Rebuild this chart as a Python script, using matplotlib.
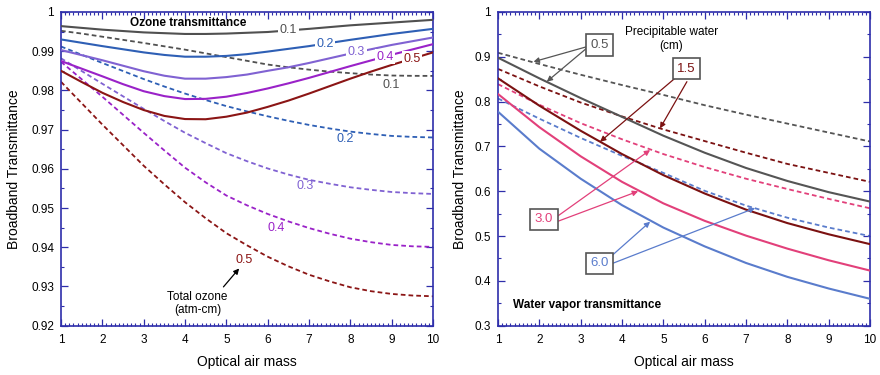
import matplotlib
matplotlib.use("Agg")
import matplotlib.pyplot as plt
import numpy as np
from matplotlib.ticker import MultipleLocator, FixedLocator, FixedFormatter

plt.rcParams['font.family'] = ['Liberation Sans', 'DejaVu Sans']

# ---------------- data ----------------
# Ozone panel: air mass sampled every 0.5
air_mass_fine = [1.0, 1.5, 2.0, 2.5, 3.0, 3.5, 4.0, 4.5, 5.0, 5.5,
                 6.0, 6.5, 7.0, 7.5, 8.0, 8.5, 9.0, 9.5, 10.0]
ozone_labels = ['0.1', '0.2', '0.3', '0.4', '0.5']

# solid curves
ozone_solid_01 = [0.9964, 0.99595, 0.9955, 0.99515, 0.9948, 0.9946, 0.9944, 0.9944, 0.9945, 0.9947,
                  0.9949, 0.9953, 0.9957, 0.99615, 0.9966, 0.99695, 0.9973, 0.99765, 0.9980]
ozone_solid_02 = [0.9930, 0.99215, 0.9913, 0.9905, 0.9897, 0.98905, 0.9886, 0.9886, 0.9888, 0.98925,
                  0.9899, 0.9906, 0.9913, 0.9921, 0.9929, 0.99365, 0.9944, 0.99505, 0.9957]
ozone_solid_03 = [0.9903, 0.9890, 0.9877, 0.9863, 0.9849, 0.98375, 0.9830, 0.9830, 0.9834, 0.98405,
                  0.9850, 0.9859, 0.9870, 0.9882, 0.9894, 0.9905, 0.9916, 0.99255, 0.9935]
ozone_solid_04 = [0.9875, 0.98555, 0.9836, 0.9816, 0.9798, 0.97855, 0.9778, 0.97785, 0.9784, 0.97935,
                  0.9805, 0.9818, 0.9832, 0.9847, 0.9862, 0.98765, 0.9891, 0.99045, 0.9918]
ozone_solid_05 = [0.9850, 0.98215, 0.9794, 0.97705, 0.9750, 0.9735, 0.9727, 0.97265, 0.9733, 0.97435,
                  0.9758, 0.9774, 0.9792, 0.9811, 0.9830, 0.9848, 0.9865, 0.9881, 0.9897]

# dashed curves
ozone_dashed_01 = [0.9952, 0.9945, 0.9937, 0.9929, 0.9921, 0.99125, 0.9904, 0.98945, 0.9885, 0.98755,
                   0.9866, 0.9859, 0.9853, 0.9848, 0.9844, 0.98405, 0.9838, 0.98372, 0.9837]
ozone_dashed_02 = [0.9912, 0.9891, 0.9870, 0.98495, 0.9829, 0.9810, 0.9792, 0.97755, 0.9760, 0.97465,
                   0.9734, 0.97225, 0.9712, 0.9703, 0.9695, 0.9689, 0.9684, 0.96815, 0.9680]
ozone_dashed_03 = [0.9882, 0.98495, 0.9817, 0.9785, 0.9753, 0.9722, 0.9692, 0.96655, 0.9640, 0.96195,
                   0.9601, 0.95855, 0.9572, 0.9562, 0.9553, 0.95465, 0.9541, 0.9538, 0.9536]
ozone_dashed_04 = [0.9873, 0.98285, 0.9784, 0.9738, 0.9692, 0.9647, 0.9603, 0.95655, 0.9532, 0.9507,
                   0.9485, 0.9466, 0.9449, 0.94345, 0.9422, 0.9413, 0.9406, 0.94025, 0.9401]
ozone_dashed_05 = [0.9822, 0.97675, 0.9713, 0.96605, 0.9608, 0.95605, 0.9515, 0.9474, 0.9436, 0.9405,
                   0.9376, 0.93515, 0.9330, 0.9313, 0.9298, 0.9288, 0.9281, 0.9277, 0.9275]

# Water vapour panel: integer air mass
air_mass = [1, 2, 3, 4, 5, 6, 7, 8, 9, 10]
water_labels = ['0.5', '1.5', '3.0', '6.0']
water_solid_05 = [0.898, 0.852, 0.808, 0.766, 0.724, 0.686, 0.652, 0.623, 0.598, 0.577]
water_solid_15 = [0.852, 0.791, 0.735, 0.683, 0.636, 0.595, 0.559, 0.529, 0.504, 0.482]
water_solid_30 = [0.817, 0.743, 0.678, 0.621, 0.573, 0.534, 0.501, 0.472, 0.446, 0.423]
water_solid_60 = [0.7775, 0.695, 0.628, 0.569, 0.519, 0.477, 0.440, 0.409, 0.383, 0.360]
water_dashed_05 = [0.909, 0.884, 0.860, 0.837, 0.815, 0.792, 0.771, 0.751, 0.731, 0.711]
water_dashed_15 = [0.873, 0.834, 0.798, 0.767, 0.738, 0.712, 0.686, 0.661, 0.641, 0.621]
water_dashed_30 = [0.839, 0.793, 0.752, 0.716, 0.683, 0.654, 0.628, 0.605, 0.583, 0.562]
water_dashed_60 = [0.807, 0.762, 0.719, 0.679, 0.641, 0.601, 0.568, 0.541, 0.519, 0.500]

x_ticks = [1, 2, 3, 4, 5, 6, 7, 8, 9, 10]
x_ticklabels = ['1', '2', '3', '4', '5', '6', '7', '8', '9', '10']
ozone_yticks = [0.92, 0.93, 0.94, 0.95, 0.96, 0.97, 0.98, 0.99, 1.0]
ozone_yticklabels = ['0.92', '0.93', '0.94', '0.95', '0.96', '0.97', '0.98', '0.99', '1']
water_yticks = [0.3, 0.4, 0.5, 0.6, 0.7, 0.8, 0.9, 1.0]
water_yticklabels = ['0.3', '0.4', '0.5', '0.6', '0.7', '0.8', '0.9', '1']

# ---------------- style ----------------
SPINE = '#2e2eaa'
ozone_colors = ['#505050', '#2e5fb5', '#8062d2', '#9a22c8', '#8b1515']
water_colors = ['#555555', '#7b1111', '#e2407a', '#5a7ccc']
DASH = (0, (2.6, 1.7))

fig = plt.figure(figsize=(8.8, 3.75), dpi=100)
ax_b = 1 - 325.7 / 375
ax_h = 313.7 / 375
ax1 = fig.add_axes([61 / 880, ax_b, 372 / 880, ax_h])
ax2 = fig.add_axes([498 / 880, ax_b, 372 / 880, ax_h])


def style_axes(ax, ylim, yticks, yticklabels, yminor):
    ax.set_xlim(1, 10)
    ax.set_ylim(*ylim)
    ax.xaxis.set_major_locator(FixedLocator(x_ticks))
    ax.xaxis.set_major_formatter(FixedFormatter(x_ticklabels))
    ax.xaxis.set_minor_locator(MultipleLocator(0.1))
    ax.yaxis.set_major_locator(FixedLocator(yticks))
    ax.yaxis.set_major_formatter(FixedFormatter(yticklabels))
    ax.yaxis.set_minor_locator(MultipleLocator(yminor))
    ax.tick_params(which='both', direction='in', top=True, right=True,
                   color=SPINE, labelsize=8.5, labelcolor='black')
    ax.tick_params(which='major', length=5, width=0.9)
    ax.tick_params(which='minor', length=2.5, width=0.8)
    ax.tick_params(axis='x', pad=6)
    ax.tick_params(axis='y', pad=5)
    for s in ax.spines.values():
        s.set_color(SPINE)
        s.set_linewidth(1.2)
    ax.set_xlabel('Optical air mass', fontsize=10)
    ax.set_ylabel('Broadband Transmittance', fontsize=10)
    ax.xaxis.set_label_coords(0.5, -0.093)


# ---------------- ozone panel ----------------
style_axes(ax1, (0.92, 1.0), ozone_yticks, ozone_yticklabels, 0.005)
ax1.yaxis.set_label_coords(-0.108, 0.5)

solid_sets = [ozone_solid_01, ozone_solid_02, ozone_solid_03, ozone_solid_04, ozone_solid_05]
dashed_sets = [ozone_dashed_01, ozone_dashed_02, ozone_dashed_03, ozone_dashed_04, ozone_dashed_05]

for vals, c in zip(dashed_sets, ozone_colors):
    ax1.plot(air_mass_fine, vals, color=c, lw=1.3, ls=DASH, zorder=2)
for vals, c in zip(solid_sets, ozone_colors):
    ax1.plot(air_mass_fine, vals, color=c, lw=1.5, zorder=3)

# inline labels on the solid curves
solid_label_x = [6.5, 7.39, 8.15, 8.84, 9.49]
for lab, lx, vals, c in zip(ozone_labels, solid_label_x, solid_sets, ozone_colors):
    ly = np.interp(lx, air_mass_fine, vals)
    ax1.text(lx, ly, lab, color=c, fontsize=9, ha='center', va='center', zorder=5,
             bbox=dict(boxstyle='square,pad=0.12', fc='white', ec='none'))

# labels under the dashed curves
dashed_label_pos = [(9.0, 0.9815), (7.88, 0.9675), (6.9, 0.9555), (6.2, 0.9448), (5.42, 0.9368)]
for lab, (lx, ly), c in zip(ozone_labels, dashed_label_pos, ozone_colors):
    ax1.text(lx, ly, lab, color=c, fontsize=9, ha='center', va='center', zorder=5)

ax1.text(4.08, 0.9972, 'Ozone transmittance', fontsize=8.5, fontweight='bold',
         ha='center', va='center', zorder=6)
ax1.text(4.3, 0.9256, 'Total ozone\n(atm-cm)', fontsize=8.5, ha='center', va='center',
         multialignment='center', linespacing=1.15)
ax1.annotate('', xy=(5.31, 0.9346), xytext=(4.93, 0.9299),
             arrowprops=dict(arrowstyle='-|>', color='black', lw=0.9, mutation_scale=8,
                             shrinkA=0, shrinkB=0))

# ---------------- water vapour panel ----------------
style_axes(ax2, (0.3, 1.0), water_yticks, water_yticklabels, 0.05)
ax2.yaxis.set_label_coords(-0.084, 0.5)

w_solid = [water_solid_05, water_solid_15, water_solid_30, water_solid_60]
w_dashed = [water_dashed_05, water_dashed_15, water_dashed_30, water_dashed_60]
for vals, c in zip(w_dashed, water_colors):
    ax2.plot(air_mass, vals, color=c, lw=1.3, ls=DASH, zorder=2)
for vals, c in zip(w_solid, water_colors):
    ax2.plot(air_mass, vals, color=c, lw=1.5, zorder=3)

box_pos = [(3.46, 0.9263), (5.56, 0.8735), (2.11, 0.537), (3.46, 0.439)]
arrow_pairs = [
    [((3.15, 0.9226), (1.86, 0.889)), ((3.15, 0.9196), (2.18, 0.8445))],
    [((5.28, 0.852), (3.47, 0.7105)), ((5.57, 0.8445), (4.92, 0.7404))],
    [((2.42, 0.543), (4.68, 0.692)), ((2.42, 0.532), (4.39, 0.6))],
    [((3.77, 0.4576), (4.68, 0.532)), ((3.77, 0.439), (7.22, 0.5625))],
]
for lab, (bx, by), arrows, c in zip(water_labels, box_pos, arrow_pairs, water_colors):
    ax2.text(bx, by, lab, color=c, fontsize=9.5, ha='center', va='center', zorder=6,
             bbox=dict(boxstyle='square,pad=0.35', fc='white', ec='#555555', lw=1.2))
    for start, tip in arrows:
        ax2.annotate('', xy=tip, xytext=start, zorder=5,
                     arrowprops=dict(arrowstyle='-|>', color=c, lw=0.9, mutation_scale=8,
                                     shrinkA=0, shrinkB=0))

ax2.text(5.2, 0.9397, 'Precipitable water\n(cm)', fontsize=8.5, ha='center', va='center',
         multialignment='center', linespacing=1.15)
ax2.text(1.37, 0.346, 'Water vapor transmittance', fontsize=8.5, fontweight='bold',
         ha='left', va='center')

fig.savefig('out.png', dpi=100)
